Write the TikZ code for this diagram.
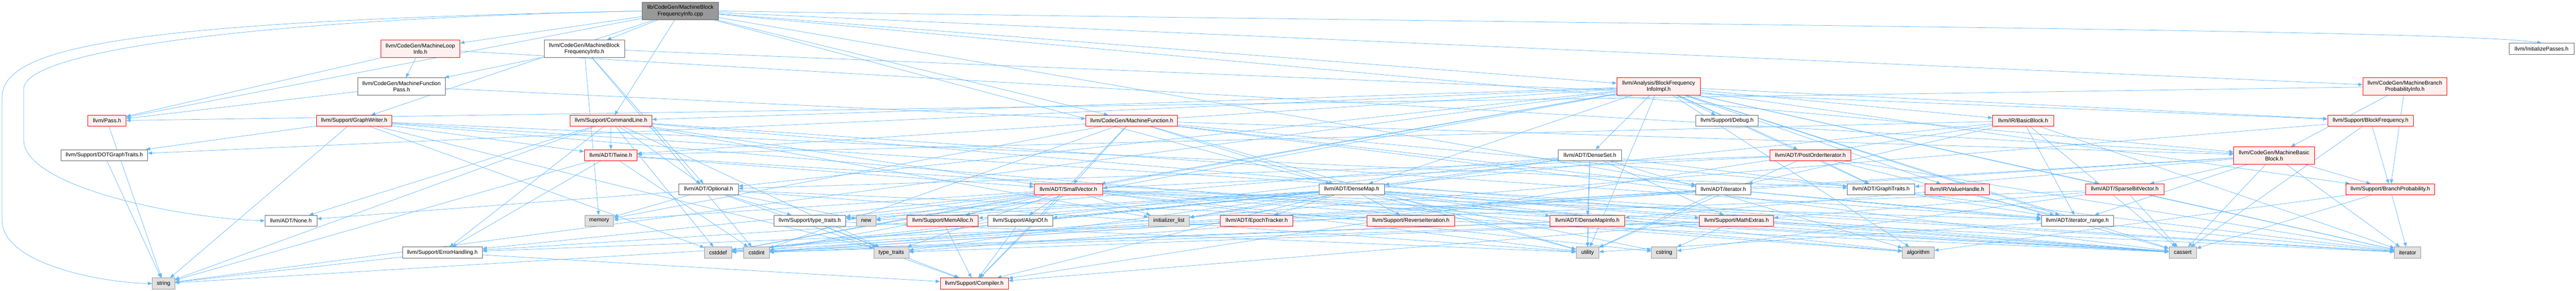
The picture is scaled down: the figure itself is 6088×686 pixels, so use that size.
\documentclass[tikz,border=0pt]{standalone}
\usepackage{fontspec}
\setmainfont{Liberation Sans}
\usepackage{tikz}
\usetikzlibrary{arrows.meta}
\usetikzlibrary{backgrounds}
\definecolor{link blue}{HTML}{63B8FF}
\definecolor{trunc red}{HTML}{FF0000}
\definecolor{trunc fill}{HTML}{FFF0F0}
\definecolor{sys fill}{HTML}{E0E0E0}
\definecolor{sys line}{HTML}{999999}
\definecolor{hdr line}{HTML}{666666}
\tikzset{>={Triangle[length=10pt,width=8pt]}}
\tikzset{
  hdrbox/.style={draw=hdr line, fill=white, line width=1pt, inner sep=0pt,
    minimum height=26pt, align=center, font=\fontsize{13}{15}\selectfont},
  redbox/.style={hdrbox, draw=trunc red, fill=trunc fill},
  sysbox/.style={hdrbox, draw=sys line, fill=sys fill},
  srcbox/.style={hdrbox, draw=hdr line, fill=sys line},
  inc/.style={->, link blue, line width=0.9pt}
}

\begin{document}
\begin{tikzpicture}[x=1pt, y=-1pt]
    \useasboundingbox (0,0) rectangle (6088,686);
    % row 0 and 1
    \node[srcbox, minimum width=180pt, minimum height=41pt] (cpp) at (1608, 26) {lib/CodeGen/MachineBlock\\FrequencyInfo.cpp};
    \node[hdrbox, minimum width=190pt, minimum height=41pt] (mbfi) at (1381, 115) {llvm/CodeGen/MachineBlock\\FrequencyInfo.h};
    \node[redbox, minimum width=187pt, minimum height=41pt] (mli) at (993.5, 115) {llvm/CodeGen/MachineLoop\\Info.h};
    \node[hdrbox, minimum width=153pt] (initp) at (6006.5, 115) {llvm/InitializePasses.h};
    % row 2
    \node[hdrbox, minimum width=208pt, minimum height=41pt] (mfp) at (949, 204) {llvm/CodeGen/MachineFunction\\Pass.h};
    \node[redbox, minimum width=198pt, minimum height=41pt] (bfii) at (3920, 204) {llvm/Analysis/BlockFrequency\\InfoImpl.h};
    \node[redbox, minimum width=199pt, minimum height=41pt] (mbpi) at (5683.5, 204) {llvm/CodeGen/MachineBranch\\ProbabilityInfo.h};
    % row 3
    \node[redbox, minimum width=90pt] (pass) at (253, 285) {llvm/Pass.h};
    \node[redbox, minimum width=178pt] (gw) at (837, 285) {llvm/Support/GraphWriter.h};
    \node[redbox, minimum width=194pt] (cl) at (1444, 285) {llvm/Support/CommandLine.h};
    \node[redbox, minimum width=217pt] (mf) at (2674.5, 285) {llvm/CodeGen/MachineFunction.h};
    \node[hdrbox, minimum width=147pt] (dbg) at (4081.5, 285) {llvm/Support/Debug.h};
    \node[redbox, minimum width=145pt] (bb) at (4781.5, 285) {llvm/IR/BasicBlock.h};
    \node[redbox, minimum width=203pt] (bf) at (5602.5, 285) {llvm/Support/BlockFrequency.h};
    % row 4
    \node[hdrbox, minimum width=205pt] (dot) at (246.5, 366) {llvm/Support/DOTGraphTraits.h};
    \node[redbox, minimum width=125pt] (twine) at (1443.5, 366) {llvm/ADT/Twine.h};
    \node[hdrbox, minimum width=149pt] (dset) at (3757.5, 366) {llvm/ADT/DenseSet.h};
    \node[redbox, minimum width=191pt] (poi) at (4278.5, 366) {llvm/ADT/PostOrderIterator.h};
    \node[redbox, minimum width=191pt, minimum height=41pt] (mbb) at (5374.5, 367) {llvm/CodeGen/MachineBasic\\Block.h};
    % row 5
    \node[hdrbox, minimum width=141pt] (opt) at (1674.5, 447) {llvm/ADT/Optional.h};
    \node[redbox, minimum width=162pt] (svec) at (2525, 447) {llvm/ADT/SmallVector.h};
    \node[hdrbox, minimum width=155pt] (dmap) at (3194.5, 447) {llvm/ADT/DenseMap.h};
    \node[hdrbox, minimum width=130pt] (iter) at (4073, 447) {llvm/ADT/iterator.h};
    \node[hdrbox, minimum width=159pt] (gt) at (4445.5, 447) {llvm/ADT/GraphTraits.h};
    \node[redbox, minimum width=151pt] (vh) at (4625.5, 447) {llvm/IR/ValueHandle.h};
    \node[redbox, minimum width=185pt] (sbv) at (5021.5, 447) {llvm/ADT/SparseBitVector.h};
    \node[redbox, minimum width=210pt] (bp) at (5649, 447) {llvm/Support/BranchProbability.h};
    % row 6
    \node[hdrbox, minimum width=123pt] (none) at (687.5, 521) {llvm/ADT/None.h};
    \node[sysbox, minimum width=68pt] (mem) at (1416, 521) {memory};
    \node[hdrbox, minimum width=170pt] (stt) at (1914, 521) {llvm/Support/type\_traits.h};
    \node[sysbox, minimum width=46pt] (new) at (2047, 521) {new};
    \node[redbox, minimum width=168pt] (malloc) at (2228, 521) {llvm/Support/MemAlloc.h};
    \node[hdrbox, minimum width=153pt] (align) at (2411.5, 521) {llvm/Support/AlignOf.h};
    \node[sysbox, minimum width=97pt] (ilist) at (2762.5, 521) {initializer\_list};
    \node[redbox, minimum width=172pt] (epoch) at (2970, 521) {llvm/ADT/EpochTracker.h};
    \node[redbox, minimum width=207pt] (rev) at (3334.5, 521) {llvm/Support/ReverseIteration.h};
    \node[redbox, minimum width=177pt] (dmi) at (3751.5, 521) {llvm/ADT/DenseMapInfo.h};
    \node[redbox, minimum width=176pt] (mathx) at (4104, 521) {llvm/Support/MathExtras.h};
    \node[hdrbox, minimum width=171pt] (irange) at (4909.5, 521) {llvm/ADT/iterator\_range.h};
    % row 7 and 8
    \node[hdrbox, minimum width=189pt] (err) at (1045.5, 596) {llvm/Support/ErrorHandling.h};
    \node[sysbox, minimum width=64pt] (cstddef) at (1697, 596) {cstddef};
    \node[sysbox, minimum width=60pt] (cstdint) at (1788, 596) {cstdint};
    \node[sysbox, minimum width=83pt] (tt) at (2106.5, 596) {type\_traits};
    \node[sysbox, minimum width=54pt] (utility) at (3752, 596) {utility};
    \node[sysbox, minimum width=60pt] (cstring) at (3933, 596) {cstring};
    \node[sysbox, minimum width=75pt] (algorithm) at (4533.5, 596) {algorithm};
    \node[sysbox, minimum width=65pt] (cassert) at (5158.5, 596) {cassert};
    \node[sysbox, minimum width=62pt] (iterator) at (5690, 596) {iterator};
    \node[sysbox, minimum width=53pt] (string) at (386.5, 669) {string};
    \node[redbox, minimum width=161pt] (comp) at (2302.5, 669) {llvm/Support/Compiler.h};

    \begin{scope}[on background layer]
        % includes, one loop per file
        \foreach \t in {mbfi,mli,bfii,mbpi,pass,gw,cl,mf,mbb,dmap,iter}
            \draw[inc] (cpp) -- (\t);
        \draw[inc] (cpp.east) .. controls (4000,60) and (5800,70) .. (initp.north);
        \draw[inc] (cpp.west) .. controls (300,50) and (5,110) .. (5,230) -- (5,520) .. controls (5,625) and (250,668) .. (string.west);
        \draw[inc] (cpp.west) .. controls (600,45) and (56,120) .. (56,210) -- (56,330) .. controls (56,440) and (420,515) .. (none.west);
        \foreach \t in {mfp,opt,bf,cstdint,mem}
            \draw[inc] (mbfi) -- (\t);
        \foreach \t in {mfp,pass,mbb}
            \draw[inc] (mli) -- (\t);
        \foreach \t in {mf,pass}
            \draw[inc] (mfp) -- (\t);
        \foreach \t in {dmap,dset,gt,opt,poi,svec,sbv,twine,irange,bb,vh,bf,bp,cl,dot,dbg,algorithm,cassert,cstddef,cstdint,iterator,string,utility}
            \draw[inc] (bfii) -- (\t);
        \foreach \t in {mbb,pass,bp}
            \draw[inc] (mbpi) -- (\t);
        \draw[inc] (pass) -- (string);
        \foreach \t in {gt,twine,dot,algorithm,cstddef,iterator,string,tt}
            \draw[inc] (gw) -- (\t);
        \foreach \t in {twine,none,opt,svec,irange,err,cassert,cstddef,ilist,string,tt}
            \draw[inc] (cl) -- (\t);
        \foreach \t in {dmap,gt,svec,iter,mbb,comp,cassert,cstdint,mem,utility}
            \draw[inc] (mf) -- (\t);
        \foreach \t in {twine,iter,irange,comp,cassert,cstddef,iterator}
            \draw[inc] (bb) -- (\t);
        \foreach \t in {bp,cassert,cstdint}
            \draw[inc] (bf) -- (\t);
        \draw[inc] (dot) -- (string);
        \foreach \t in {svec,err,cassert,cstdint,string}
            \draw[inc] (twine) -- (\t);
        \foreach \t in {dmap,dmi,mathx,stt,algorithm,cstddef,ilist,iterator,utility}
            \draw[inc] (dset) -- (\t);
        \foreach \t in {gt,opt,svec,irange,iterator,utility}
            \draw[inc] (poi) -- (\t);
        \foreach \t in {gt,sbv,irange,bp,cassert,cstdint,iterator,string}
            \draw[inc] (mbb) -- (\t);
        \foreach \t in {none,comp,stt,cassert,mem,new,utility}
            \draw[inc] (opt) -- (\t);
        \foreach \t in {irange,comp,err,malloc,align,stt,algorithm,cassert,cstddef,cstring,ilist,iterator,mem,new,tt,utility}
            \draw[inc] (svec) -- (\t);
        \foreach \t in {dmi,epoch,align,comp,mathx,malloc,rev,stt,algorithm,cassert,cstddef,cstring,ilist,iterator,new,tt,utility}
            \draw[inc] (dmap) -- (\t);
        \foreach \t in {irange,cstddef,iterator,tt,utility}
            \draw[inc] (iter) -- (\t);
        \draw[inc] (gt) -- (irange);
        \foreach \t in {dmi,cassert}
            \draw[inc] (vh) -- (\t);
        \foreach \t in {err,mathx,cassert,cstring,iterator}
            \draw[inc] (sbv) -- (\t);
        \foreach \t in {algorithm,cassert,iterator}
            \draw[inc] (bp) -- (\t);
        \foreach \t in {comp,tt,utility}
            \draw[inc] (stt) -- (\t);
        \foreach \t in {comp,err}
            \draw[inc] (malloc) -- (\t);
        \draw[inc] (align) -- (comp);
        \draw[inc] (epoch) -- (cstdint);
        \foreach \t in {cassert,cstddef,cstdint,utility}
            \draw[inc] (dmi) -- (\t);
        \foreach \t in {comp,cassert,cstdint,cstring,tt}
            \draw[inc] (mathx) -- (\t);
        \draw[inc] (irange) -- (utility);
        \foreach \t in {comp,string}
            \draw[inc] (err) -- (\t);
    \end{scope}
\end{tikzpicture}
\end{document}
